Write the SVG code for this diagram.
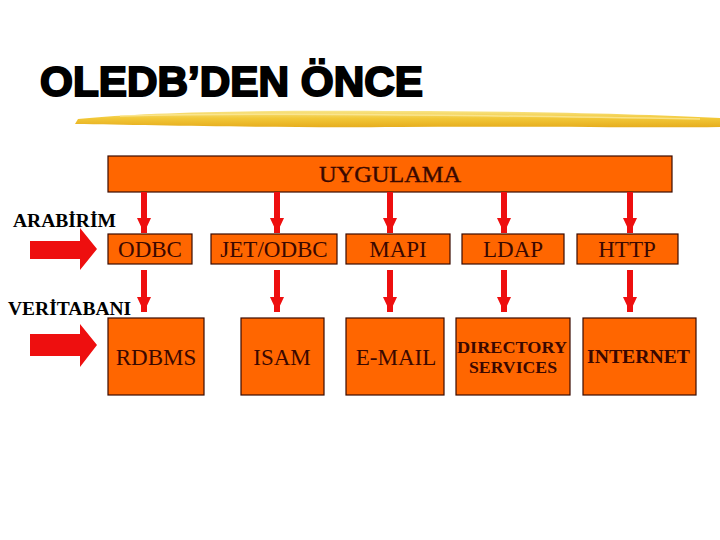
<svg xmlns="http://www.w3.org/2000/svg" width="720" height="540" viewBox="0 0 720 540">
<defs>
<linearGradient id="brush" x1="0" y1="0" x2="0" y2="1">
<stop offset="0" stop-color="#f8e58a"/>
<stop offset="0.45" stop-color="#f2c838"/>
<stop offset="1" stop-color="#e6ad1e"/>
</linearGradient>
<marker id="ah" viewBox="0 0 15 14" refX="15" refY="7" markerWidth="15" markerHeight="14" markerUnits="userSpaceOnUse" orient="auto">
<path d="M0,0 L15,7 L0,14 Z" fill="#ee0f0f"/>
</marker>
</defs>
<style>
.box{fill:#ff6600;stroke:#3a0a00;stroke-width:1.2}
.t{fill:#3a0800;text-anchor:middle}
.lbl{fill:#000}
.con line{stroke:#ee0f0f;stroke-width:6}
.big{fill:#ee0f0f}
</style>
<rect width="720" height="540" fill="#fff"/>
<text x="40" y="96" font-family="'Liberation Sans', Arial, sans-serif" font-weight="bold" font-size="42" fill="#000" stroke="#000" stroke-width="2" textLength="383" lengthAdjust="spacingAndGlyphs">OLEDB’DEN ÖNCE</text>
<path d="M78,119 C150,112 260,110 400,111 C520,111 640,114 720,118 L720,127 C640,128 520,126 400,127 C260,128 150,125 75,124 Z" fill="url(#brush)"/>
<path d="M120,116 C250,113 400,114 700,119" stroke="#fbe99a" stroke-width="1.5" fill="none" opacity="0.8"/>
<g font-family="'Liberation Serif', 'Times New Roman', serif">
<g id="uygulama"><rect class="box" x="108" y="156" width="564" height="36"/><text class="t" x="390" y="182" font-size="23.5" stroke="#3a0800" stroke-width="0.4" textLength="142" lengthAdjust="spacingAndGlyphs">UYGULAMA</text></g>
<g id="odbc"><rect class="box" x="108" y="234" width="84" height="30"/><text class="t" x="150" y="257" font-size="23">ODBC</text></g>
<g id="jetodbc"><rect class="box" x="211" y="234" width="126" height="30"/><text class="t" x="274" y="257" font-size="23">JET/ODBC</text></g>
<g id="mapi"><rect class="box" x="346" y="234" width="104" height="30"/><text class="t" x="398" y="257" font-size="23">MAPI</text></g>
<g id="ldap"><rect class="box" x="462" y="234" width="102" height="30"/><text class="t" x="513" y="257" font-size="23">LDAP</text></g>
<g id="http"><rect class="box" x="577" y="234" width="101" height="30"/><text class="t" x="627" y="257" font-size="23">HTTP</text></g>
<g id="rdbms"><rect class="box" x="108" y="318" width="96" height="77"/><text class="t" x="156" y="365" font-size="23">RDBMS</text></g>
<g id="isam"><rect class="box" x="241" y="318" width="83" height="77"/><text class="t" x="282" y="365" font-size="23">ISAM</text></g>
<g id="email"><rect class="box" x="346" y="318" width="98" height="77"/><text class="t" x="396" y="365" font-size="23">E-MAIL</text></g>
<g id="directory"><rect class="box" x="456" y="318" width="114" height="77"/><text class="t" x="512" y="353" font-size="17.5" font-weight="bold" textLength="110" lengthAdjust="spacingAndGlyphs">DIRECTORY</text><text class="t" x="513" y="373" font-size="17.5" font-weight="bold" textLength="88" lengthAdjust="spacingAndGlyphs">SERVICES</text></g>
<g id="internet"><rect class="box" x="583" y="318" width="113" height="77"/><text class="t" x="638.5" y="363" font-size="18.5" font-weight="bold" textLength="103" lengthAdjust="spacingAndGlyphs">INTERNET</text></g>
<g id="arabirim"><text class="lbl" x="13" y="227" font-size="19.5" font-weight="bold">ARABİRİM</text><path class="big" d="M30,241 L80,241 L80,228 L97,249 L80,270 L80,259 L30,259 Z"/></g>
<g id="veritabani"><text class="lbl" x="8" y="315" font-size="19.5" font-weight="bold">VERİTABANI</text><path class="big" d="M30,334 L80,334 L80,324 L97,345 L80,367 L80,356 L30,356 Z"/></g>
</g>
<g class="con" id="connectors">
<line x1="144" y1="192" x2="144" y2="233" marker-end="url(#ah)"/>
<line x1="277" y1="192" x2="277" y2="233" marker-end="url(#ah)"/>
<line x1="390" y1="192" x2="390" y2="233" marker-end="url(#ah)"/>
<line x1="504" y1="192" x2="504" y2="233" marker-end="url(#ah)"/>
<line x1="630" y1="192" x2="630" y2="233" marker-end="url(#ah)"/>
<line x1="144" y1="270" x2="144" y2="312" marker-end="url(#ah)"/>
<line x1="277" y1="270" x2="277" y2="312" marker-end="url(#ah)"/>
<line x1="390" y1="270" x2="390" y2="312" marker-end="url(#ah)"/>
<line x1="504" y1="270" x2="504" y2="312" marker-end="url(#ah)"/>
<line x1="630" y1="270" x2="630" y2="312" marker-end="url(#ah)"/>
</g>
</svg>
